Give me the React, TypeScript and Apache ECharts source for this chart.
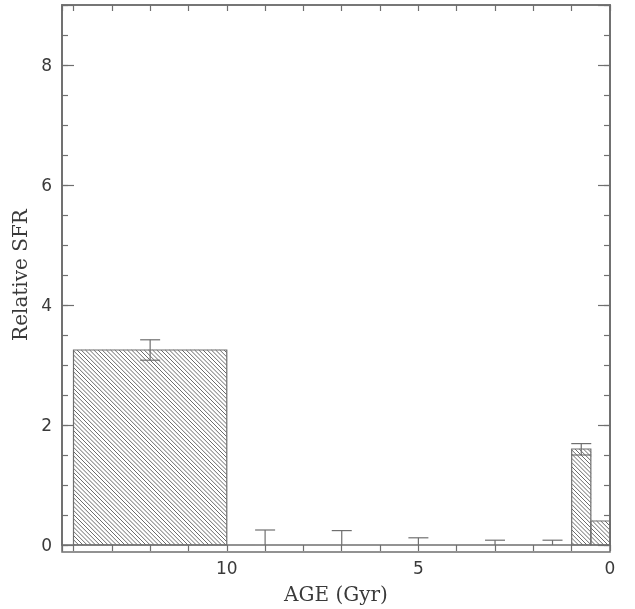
import React, { useEffect, useRef } from "react";
import * as echarts from "echarts";

// Age bins (Gyr): start / end of each bin
const binStart = [14, 10, 8, 6, 4, 2, 1, 0.5];
const binEnd = [10, 8, 6, 4, 2, 1, 0.5, 0];
// Relative star formation rate in each bin
const sfr = [3.25, 0, 0, 0, 0, 0, 1.6, 0.4];
// Error bars (lower / upper bound); null = no error bar drawn
const errLow = [3.08, 0, 0, 0, 0, 0, 1.5, null];
const errHigh = [3.42, 0.25, 0.24, 0.12, 0.08, 0.08, 1.69, null];

const xTickLabels = ["0", "5", "10"];
const yTickLabels = ["0", "2", "4", "6", "8"];

const LINE = "#6f6f6f";
const TEXT = "#3a3a3a";
const HATCH = "#6a6a6a";

export default function App() {
  const ref = useRef<HTMLDivElement>(null);
  useEffect(() => {
    if (!ref.current) return;
    const chart = echarts.init(ref.current, null, { renderer: "svg" });

    const barData = binStart.map((s, i) => [s, binEnd[i], sfr[i]]);
    const errData: any[] = [];
    binStart.forEach((s, i) => {
      if (errHigh[i] !== null) {
        errData.push([(s + binEnd[i]) / 2, errLow[i], errHigh[i]]);
      }
    });

    const gridLeft = 62;
    const gridRight = 25;
    const gridTop = 5;
    const gridBottom = 63;

    const tickStyle = { color: LINE, width: 1.2 };
    const yBase = { type: "value", min: 0, max: 9, splitLine: { show: false } };
    const xBase = { type: "value", inverse: true, min: 0, max: 14.3, interval: 1, splitLine: { show: false } };

    const option: any = {
      animation: false,
      grid: { left: gridLeft, right: gridRight, top: gridTop, bottom: gridBottom },
      xAxis: [
        {
          ...xBase,
          position: "bottom",
          name: "AGE (Gyr)",
          nameLocation: "middle",
          nameGap: 39,
          nameTextStyle: { fontFamily: "DejaVu Serif", fontSize: 20, color: TEXT },
          axisLine: { show: true, onZero: false, lineStyle: { color: LINE, width: 1.5 } },
          axisTick: { show: true, inside: false, length: 6, lineStyle: tickStyle },
          axisLabel: {
            margin: 14,
            fontFamily: "DejaVu Sans",
            fontSize: 17,
            color: TEXT,
            formatter: (v: number) => (xTickLabels.includes(String(v)) ? String(v) : ""),
          },
        },
        {
          ...xBase,
          position: "top",
          axisLine: { show: true, onZero: false, lineStyle: { color: LINE, width: 1.5 } },
          axisTick: { show: true, inside: true, length: 6, lineStyle: tickStyle },
          axisLabel: { show: false },
        },
      ],
      yAxis: [
        {
          ...yBase,
          position: "left",
          interval: 2,
          name: "Relative SFR",
          nameLocation: "middle",
          nameGap: 28,
          nameTextStyle: { fontFamily: "DejaVu Serif", fontSize: 20, color: TEXT },
          axisLine: { show: true, onZero: false, lineStyle: { color: LINE, width: 1.5 } },
          axisTick: { show: true, inside: true, length: 12, lineStyle: tickStyle },
          axisLabel: {
            margin: 10,
            fontFamily: "DejaVu Sans",
            fontSize: 17,
            color: TEXT,
            formatter: (v: number) => (yTickLabels.includes(String(v)) ? String(v) : ""),
          },
        },
        {
          ...yBase,
          position: "left",
          interval: 0.5,
          axisLine: { show: true, onZero: false, lineStyle: { color: LINE, width: 1.5 } },
          axisTick: { show: true, inside: true, length: 6, lineStyle: tickStyle },
          axisLabel: { show: false },
        },
        {
          ...yBase,
          position: "right",
          interval: 2,
          axisLine: { show: true, onZero: false, lineStyle: { color: LINE, width: 1.5 } },
          axisTick: { show: true, inside: true, length: 12, lineStyle: tickStyle },
          axisLabel: { show: false },
        },
        {
          ...yBase,
          position: "right",
          interval: 0.5,
          axisLine: { show: true, onZero: false, lineStyle: { color: LINE, width: 1.5 } },
          axisTick: { show: true, inside: true, length: 6, lineStyle: tickStyle },
          axisLabel: { show: false },
        },
      ],
      graphic: [
        {
          type: "rect",
          shape: { x: gridLeft, y: gridTop, width: 635 - gridLeft - gridRight, height: 609 - gridTop - 57 },
          style: { fill: "none", stroke: LINE, lineWidth: 1.5 },
          silent: true,
          z: 10,
        },
      ],
      series: [
        {
          type: "custom",
          xAxisIndex: 0,
          yAxisIndex: 0,
          data: barData,
          renderItem: (params: any, api: any) => {
            const s = api.value(0);
            const e = api.value(1);
            const v = api.value(2);
            if (!v) return { type: "group", children: [] };
            const p1 = api.coord([s, v]);
            const p2 = api.coord([e, 0]);
            const x0 = Math.min(p1[0], p2[0]);
            const x1 = Math.max(p1[0], p2[0]);
            const y0 = Math.min(p1[1], p2[1]);
            const y1 = Math.max(p1[1], p2[1]);
            const children: any[] = [];
            const step = 4.2;
            const cMin = x0 - y1;
            const cMax = x1 - y0;
            let c = Math.ceil(cMin / step) * step;
            for (; c <= cMax; c += step) {
              const ya = Math.max(y0, x0 - c);
              const yb = Math.min(y1, x1 - c);
              if (yb > ya) {
                children.push({
                  type: "line",
                  shape: { x1: ya + c, y1: ya, x2: yb + c, y2: yb },
                  style: { stroke: HATCH, lineWidth: 1 },
                });
              }
            }
            children.push({
              type: "rect",
              shape: { x: x0, y: y0, width: x1 - x0, height: y1 - y0 },
              style: { fill: "none", stroke: LINE, lineWidth: 1.2 },
            });
            return { type: "group", children };
          },
          z: 2,
        },
        {
          type: "custom",
          xAxisIndex: 0,
          yAxisIndex: 0,
          data: errData,
          renderItem: (params: any, api: any) => {
            const x = api.value(0);
            const lo = api.value(1);
            const hi = api.value(2);
            const pl = api.coord([x, lo]);
            const ph = api.coord([x, hi]);
            const hw = 10;
            const children: any[] = [
              { type: "line", shape: { x1: pl[0], y1: pl[1], x2: ph[0], y2: ph[1] }, style: { stroke: LINE, lineWidth: 1.2 } },
              { type: "line", shape: { x1: ph[0] - hw, y1: ph[1], x2: ph[0] + hw, y2: ph[1] }, style: { stroke: LINE, lineWidth: 1.2 } },
            ];
            if (lo > 0) {
              children.push({ type: "line", shape: { x1: pl[0] - hw, y1: pl[1], x2: pl[0] + hw, y2: pl[1] }, style: { stroke: LINE, lineWidth: 1.2 } });
            }
            return { type: "group", children };
          },
          z: 3,
        },
      ],
    };

    chart.setOption(option);
    return () => chart.dispose();
  }, []);

  return (
    <div
      ref={ref}
      style={{ position: "fixed", left: 0, top: 0, width: 635, height: 609 }}
    />
  );
}
